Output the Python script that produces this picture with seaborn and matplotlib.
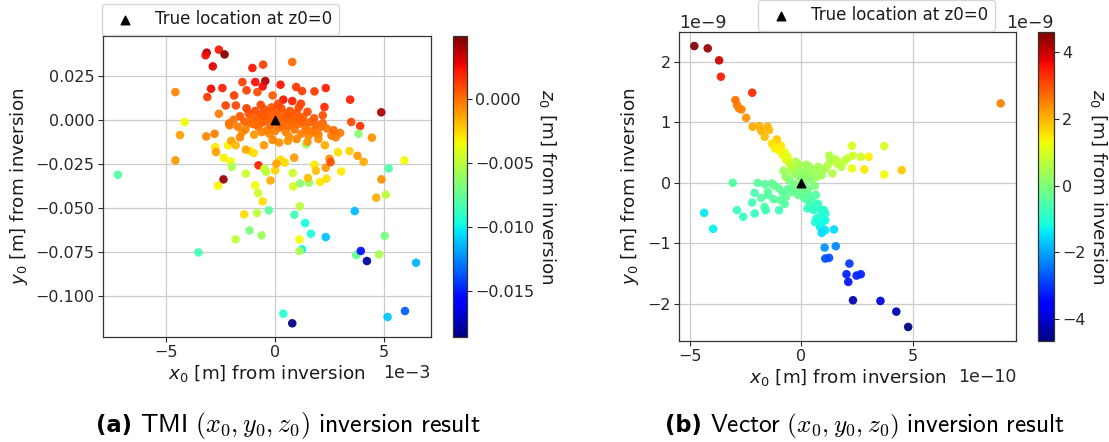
import numpy as np
import pandas as pd
import matplotlib
matplotlib.use("Agg")
import matplotlib.pyplot as plt
import seaborn as sns
from matplotlib.colors import Normalize
from matplotlib.cm import ScalarMappable
from matplotlib.ticker import MultipleLocator

# ---------------- Panel (a): TMI inversion (x in 1e-3 m, y in 1e-3 m, z in 1e-3 m)
A_OUT_X = [-3.13, -3.18, -2.57, -2.31, -2.85, -0.54, 0.80, -1.03, -1.49, -0.90,
           -0.44, -0.56, 0.26, 0.98, 1.25, 1.82, 2.34, -2.93, -2.41, -4.57,
           -3.10, -1.87, -1.30, -0.80, -0.10, 0.39, 0.80, -2.26, -1.79, 1.20,
           3.46, 2.28, 4.89, -2.57, 3.51, 3.92, -4.15, -4.36, -3.15, -2.77,
           -2.08, 4.46, 3.84, -2.74, -2.70, -2.34, -2.15, -4.57, -2.03, -1.98,
           -0.75, -1.33, -2.36, -2.61, -0.90, -0.77, -0.56, -0.48, -0.39, -0.20,
           -1.41, -0.82, -0.28, -1.16, -0.61, -1.80, -3.51, -7.21, 0.02, 0.26,
           0.46, 0.07, 0.89, 0.82, 0.84, 1.16, 1.43, 1.57, 1.52, 1.82,
           1.89, 2.08, 2.34, 2.38, 2.51, 2.56, 2.90, 3.05, 3.43, 3.80,
           4.08, 4.90, 5.10, 4.66, 5.23, 5.95, 0.90, 1.39, 1.15, 1.66,
           2.34, 3.67, 1.13, 1.25, 1.13, 3.74, 3.95, 4.23, 4.79, 5.05,
           6.49, 0.39, 0.80, 5.18, 5.98]
A_OUT_Y = [38.1, 36.6, 39.8, 37.1, 30.3, 31.3, 32.8, 29.4, 21.4, 21.4,
           22.0, 18.9, 19.9, 18.6, 16.3, 16.1, 18.0, 17.6, 18.0, 15.7,
           12.9, 13.8, 16.7, 15.7, 13.8, 11.4, 10.6, 8.1, 8.1, 9.1,
           11.4, 7.2, 4.2, 3.4, -1.3, -3.6, -1.3, -8.7, -9.5, -8.0,
           -3.2, -10.2, -8.0, -15.5, -18.4, -21.6, -14.6, -23.1, -23.7, -26.9,
           -25.9, -30.7, -33.9, -37.5, -37.3, -41.7, -46.4, -27.8, -29.7, -34.5,
           -53.8, -53.0, -51.5, -62.9, -65.7, -68.0, -75.4, -31.3, -28.8, -22.7,
           -24.4, -25.0, -21.6, -30.3, -37.9, -36.2, -14.0, -35.8, -33.1, -25.6,
           -29.0, -35.4, -27.3, -33.5, -22.2, -24.1, -18.4, -29.4, -17.8, -20.5,
           -23.9, -33.9, -42.6, -44.3, -27.7, -23.1, -54.0, -58.7, -49.2, -64.8,
           -66.7, -51.9, -68.0, -73.7, -74.6, -76.9, -74.6, -80.3, -76.5, -65.9,
           -81.3, -110.2, -115.7, -112.1, -108.7]
A_OUT_Z = [4.0, 2.5, 2.3, 4.9, 2.8, 1.2, 0.2, 2.3, 1.3, 2.5,
           3.8, 2.6, 2.3, 1.5, 1.4, 1.4, 2.0, 2.6, 2.0, -0.5,
           1.3, 1.4, 1.3, 1.0, 0.5, 2.2, 2.0, 1.2, 1.0, 1.2,
           2.0, 1.8, 4.0, -0.3, 1.0, 1.6, -3.5, -1.2, -0.6, -0.4,
           -0.3, -0.8, -6.5, -3.0, -1.2, -3.2, -3.3, -1.0, -3.5, -5.5,
           2.0, -4.5, 4.5, -3.3, -3.5, -4.5, -2.8, -4.8, -5.0, -1.5,
           -2.7, -5.0, -7.8, -6.8, -6.0, -5.0, -8.5, -8.0, -2.5, -2.6,
           -2.8, -1.3, -1.0, -4.5, -4.2, -6.3, -6.0, -6.0, -2.0, -3.0,
           -2.0, -3.0, -1.0, -2.8, -0.8, 0.8, -2.8, -3.0, -2.5, -1.0,
           -1.5, -0.8, -5.0, -1.6, -8.2, -3.5, -8.5, -9.8, -5.0, -9.5,
           -11.2, -11.3, -3.5, -10.0, -5.5, -7.5, -15.3, -18.0, -5.5, -7.0,
           -11.5, -9.3, -18.6, -11.0, -13.5]

A_CORE_X = [-1.6, -1.4, -1.2, -1.1, -1.0, -0.9, -0.8, -0.75, -0.6, -0.55,
            -0.5, -0.4, -0.35, -0.3, -0.2, -0.15, -0.1, 0.0, 0.05, 0.1,
            0.2, 0.25, 0.3, 0.35, 0.45, 0.5, 0.55, 0.6, 0.7, 0.75,
            0.85, 0.9, 1.0, 1.05, 1.15, 1.2, 1.3, 1.4, 1.5, 1.6,
            1.7, 1.8, 1.9, 2.0, -1.7, -1.5, -1.3, -0.95, -0.65, -0.25,
            0.15, 0.65, 1.1, 1.55, -1.9, -2.1, 2.2, 2.4, 2.6, 2.2,
            -0.45, 0.4, -0.7, 0.95, -0.2, 0.2, 0.6, -0.5, 0.3, -0.85,
            1.25, 0.8, -1.25, 1.45, 0.0, -0.6, 1.85, -1.35, 2.1, -1.13,
            -0.97, -1.33, -0.5, 0.2, -0.1, 0.6, 1.0, 1.5, 2.0, 2.3,
            2.8, 3.0, 2.7, -1.6, -2.0, -1.8]
A_CORE_Y = [2.0, -1.0, 3.5, 0.5, -2.5, 5.0, 1.5, -4.0, 3.0, -1.5,
            6.0, 0.8, -6.0, 4.0, -3.0, 7.0, 1.8, -1.0, 5.5, 2.5,
            -4.5, 0.5, 6.5, -2.0, 3.5, -7.0, 1.0, -3.5, 5.0, -0.5,
            2.0, -5.5, 3.8, -2.5, 0.3, -8.0, 1.5, -4.0, 4.5, -1.5,
            -6.5, 0.8, -3.0, -8.5, -4.0, -7.0, 6.5, -8.5, 8.5, -8.0,
            9.0, -9.5, 7.0, -9.0, 0.0, -2.0, -2.0, -5.0, -9.0, 2.5,
            -0.2, -0.8, -0.5, 0.8, 0.3, 1.5, 2.8, 2.2, -3.0, -2.8,
            -1.0, -2.0, -2.0, -6.0, -6.5, -7.0, -7.5, -5.5, -4.0, -17.8,
            -18.9, -17.0, -14.5, -13.0, -11.5, -12.0, -11.0, -12.5, -11.0, -14.5,
            -10.0, -7.5, -6.0, -10.0, -12.0, -14.5]
A_CORE_Z = [0.6, 0.4, 0.8, 0.3, 0.2, 0.9, 0.5, 0.0, 0.6, 0.3,
            0.8, 0.4, -0.3, 0.5, 0.2, 0.7, 0.4, 0.3, 0.6, 0.4,
            0.1, 0.3, 0.8, 0.2, 0.5, -0.4, 0.4, 0.2, 0.7, 0.3,
            0.5, -0.1, 0.6, 0.2, 0.4, -0.5, 0.5, 0.0, 0.9, 0.3,
            -0.2, 0.6, 0.4, -0.3, -0.4, -0.8, 1.2, -1.0, 1.0, -0.6,
            1.1, -0.7, 1.0, -0.5, 0.0, -0.2, 0.3, -0.2, -0.3, 0.8,
            0.3, 0.3, 0.2, 0.4, 0.3, 0.4, 0.5, 0.5, 0.1, 0.1,
            0.4, 0.2, 0.1, -0.3, -0.4, -0.5, -0.4, -0.5, 0.0, -3.0,
            -2.8, -1.5, -1.0, -0.8, -0.5, -0.9, -0.6, -0.8, -0.7, -1.5,
            -0.4, -0.2, 0.2, -0.6, -1.2, -1.8]

# ---------------- Panel (b): Vector inversion (x in 1e-10 m, y in 1e-9 m, z in 1e-9 m)
B_OUT_X = [-4.79, -4.19, -3.68, -3.60, -2.20, -2.95, -2.88, -2.79, -2.68, -2.47,
           -2.18, -1.88, -1.80, -1.51, -1.45, -1.64, -1.10, -1.32, -0.92, -1.19,
           8.92, 2.26, 3.71, 2.66, 3.01, 2.82, 3.71, 4.49, 2.26, 2.05,
           1.54, 1.31, 1.78, 1.39, 1.07, 0.75, 0.91, 0.35, -3.07, -1.96,
           -1.64, -1.32, -2.09, -1.48, -1.24, -2.20, -1.59, -1.00, -2.88, -2.60,
           -2.09, -0.92, -4.35, -3.95, -0.68, -1.00, 0.27, 0.59, 0.91, 0.27,
           0.67, 1.07, 1.07, 0.83, 1.07, 0.91, 1.46, 1.04, 1.54, 1.07,
           1.24, 2.15, 2.02, 2.10, 2.47, 2.66, 2.31, 3.54, 4.25, 4.78]
B_OUT_Y = [2.265, 2.227, 2.028, 1.757, 1.492, 1.370, 1.287, 1.232, 1.215, 1.077,
           0.928, 0.939, 0.862, 0.928, 0.873, 0.762, 0.718, 0.652, 0.619, 0.569,
           1.315, 0.613, 0.608, 0.431, 0.431, 0.221, 0.138, 0.210, 0.238, 0.403,
           0.387, 0.376, 0.265, 0.155, 0.238, 0.265, 0.127, 0.265, 0.0, 0.0,
           -0.022, -0.011, -0.166, -0.204, -0.271, -0.326, -0.453, -0.453, -0.453, -0.564,
           -0.508, -0.287, -0.497, -0.762, -0.232, -0.094, -0.287, -0.398, -0.453, -0.425,
           -0.591, -0.508, -0.619, -0.729, -0.785, -0.829, -0.773, -1.072, -1.050, -1.254,
           -1.243, -1.337, -1.514, -1.641, -1.536, -1.514, -1.945, -1.956, -2.133, -2.387]
B_OUT_Z = [4.61, 4.4, 4.0, 3.5, 3.4, 2.7, 2.6, 2.5, 2.5, 2.3,
           2.1, 2.0, 2.0, 2.0, 1.9, 1.9, 1.8, 1.6, 1.5, 1.4,
           2.5, 1.0, 1.0, 0.9, 1.4, 1.5, 1.3, 1.8, 1.2, 0.8,
           0.7, 0.5, 0.6, 0.6, 0.5, 0.5, 0.4, 0.3, -0.5, -0.4,
           -0.4, -0.3, -0.6, -0.5, -0.5, -0.7, -0.8, -0.7, -0.8, -0.8,
           -0.8, -0.4, -1.4, -1.3, -0.3, -0.3, -0.6, -0.8, -0.9, -0.8,
           -1.0, -1.1, -1.2, -1.3, -1.4, -1.5, -1.5, -2.2, -2.3, -2.8,
           -2.8, -3.0, -3.2, -3.3, -3.2, -3.2, -4.3, -3.9, -4.2, -4.67]

B_CORE_X = [-0.76, -0.61, -0.49, -0.29, -0.68, -0.84, -1.00,
            -0.45, -0.30, -0.20, -0.10, 0.05, 0.15, 0.25, 0.40, 0.55, 0.45,
            -0.55, -0.35, -0.20, -0.05, 0.10, 0.30, 0.20, 0.05, -0.15, -0.40,
            -0.60, -0.70, 0.60, 0.70, 0.35, 0.50, 0.12, -0.25, -0.10, 0.00,
            0.22, -0.50, -0.80, -0.85, 0.85, 0.65, 0.40, 0.75, 0.55, 0.85,
            1.00, 0.62, 0.95, -0.75, -1.20, -1.50, -1.80, -1.65, 1.20, 1.60,
            1.90, 2.30, 1.25]
B_CORE_Y = [0.514, 0.431, 0.32, 0.238, 0.376, 0.459, 0.54,
            0.20, 0.15, 0.25, 0.10, 0.18, 0.08, 0.15, 0.12, 0.20, 0.05,
            0.05, -0.02, -0.08, -0.05, -0.03, -0.10, -0.18, -0.15, -0.20, -0.15,
            -0.10, 0.10, -0.05, 0.10, -0.22, -0.30, -0.25, 0.35, 0.30, 0.05,
            0.30, 0.30, 0.20, -0.15, 0.22, -0.20, -0.38, -0.35, -0.45, -0.55,
            -0.45, -0.65, -0.65, -0.35, -0.05, -0.15, -0.25, -0.40, 0.30, 0.32,
            0.35, 0.45, 0.45]
B_CORE_Z = [1.3, 1.1, 0.9, 0.7, 1.1, 1.2, 1.4,
            0.5, 0.3, 0.4, 0.2, 0.2, 0.1, 0.2, 0.3, 0.4, 0.1,
            0.0, -0.1, -0.1, 0.0, 0.0, -0.2, -0.3, -0.2, -0.3, -0.3,
            -0.3, 0.2, 0.0, 0.3, -0.4, -0.6, -0.4, 0.6, 0.5, 0.1,
            0.4, 0.8, 0.3, -0.4, 0.4, -0.5, -0.7, -0.8, -0.9, -1.0,
            -1.0, -1.1, -1.2, -0.5, -0.3, -0.4, -0.5, -0.6, 0.6, 0.7,
            0.7, 0.9, 0.6]

LEGEND_LABEL = "True location at z0=0"
XLABEL = "$x_0$ [m] from inversion"
YLABEL = "$y_0$ [m] from inversion"
CLABEL = "$z_0$ [m] from inversion"
CAPTION_A = ("(a)", r"$\mathsf{TMI}\ (x_0, y_0, z_0)\ \mathsf{inversion\ result}$")
CAPTION_B = ("(b)", r"$\mathsf{Vector}\ (x_0, y_0, z_0)\ \mathsf{inversion\ result}$")

# ---------------- style
sns.set_theme(style="whitegrid", rc={
    "axes.edgecolor": "0.2",
    "axes.linewidth": 0.9,
    "grid.color": "0.8",
    "grid.linewidth": 0.9,
    "xtick.bottom": True,
    "ytick.left": True,
    "xtick.color": "0.15",
    "ytick.color": "0.15",
    "xtick.major.size": 3.5,
    "ytick.major.size": 3.5,
    "xtick.major.width": 0.8,
    "ytick.major.width": 0.8,
    "text.color": "0.1",
    "axes.labelcolor": "0.1",
})
plt.rcParams["font.family"] = ["DejaVu Sans"]

JET = matplotlib.colormaps["jet"]

W, H = 1109, 442
fig = plt.figure(figsize=(W / 100, H / 100), dpi=100)


def box(x0, y0, x1, y1):
    return [x0 / W, 1 - y1 / H, (x1 - x0) / W, (y1 - y0) / H]


ax_a = fig.add_axes(box(103, 36, 431, 337))
cax_a = fig.add_axes(box(453, 36, 467, 337))
ax_b = fig.add_axes(box(679, 32, 1016, 341))
cax_b = fig.add_axes(box(1038, 32, 1053.5, 341))

df_a = pd.DataFrame({
    "x": np.array(A_OUT_X + A_CORE_X) * 1e-3,
    "y": np.array(A_OUT_Y + A_CORE_Y) * 1e-3,
    "z": np.array(A_OUT_Z + A_CORE_Z) * 1e-3,
})
df_b = pd.DataFrame({
    "x": np.array(B_OUT_X + B_CORE_X) * 1e-10,
    "y": np.array(B_OUT_Y + B_CORE_Y) * 1e-9,
    "z": np.array(B_OUT_Z + B_CORE_Z) * 1e-9,
})


def panel(ax, cax, df, legend_anchor, xstep, ystep, cstep):
    norm = Normalize(df["z"].min(), df["z"].max())
    sns.scatterplot(data=df, x="x", y="y", hue="z", palette=JET, hue_norm=norm,
                    legend=False, s=38, linewidth=0, alpha=0.93, ax=ax, zorder=3)
    ax.scatter([0], [0], marker="^", color="black", s=38, zorder=5, label=LEGEND_LABEL)
    ax.xaxis.set_major_locator(MultipleLocator(xstep))
    ax.yaxis.set_major_locator(MultipleLocator(ystep))
    ax.set_xlabel(XLABEL, fontsize=13.2, labelpad=2)
    ax.set_ylabel(YLABEL, fontsize=13.2, labelpad=4)
    ax.tick_params(labelsize=11.5, pad=2.5)
    ax.grid(True, zorder=0)
    ax.set_axisbelow(True)
    ax.xaxis.get_offset_text().set_fontsize(12.5)
    ax.yaxis.get_offset_text().set_fontsize(12.5)
    sm = ScalarMappable(norm=norm, cmap=JET)
    cb = fig.colorbar(sm, cax=cax)
    cb.ax.yaxis.set_major_locator(MultipleLocator(cstep))
    cb.outline.set_edgecolor("0.2")
    cb.outline.set_linewidth(0.9)
    cax.tick_params(labelsize=11.5, length=3.5, pad=2.5)
    cax.yaxis.get_offset_text().set_fontsize(12.5)
    cb.set_label(CLABEL, fontsize=13.2, rotation=270, labelpad=17)
    ax.legend(loc="lower left", bbox_to_anchor=legend_anchor, bbox_transform=fig.transFigure,
              fontsize=12, frameon=True, borderaxespad=0)


panel(ax_a, cax_a, df_a, (102 / W, 1 - 35 / H), 0.005, 0.025, 0.005)
ax_a.ticklabel_format(axis="x", style="sci", scilimits=(0, 0))
ax_a.xaxis.get_offset_text().set_fontsize(12.5)
panel(ax_b, cax_b, df_b, (758 / W, 1 - 31 / H), 5e-10, 1e-9, 2e-9)


def caption(x_px, base_px, parts, size):
    tag, rest = parts
    t1 = fig.text(x_px / W, 1 - base_px / H, tag, fontsize=16.3, fontweight="bold",
                  ha="left", va="baseline", color="black")
    fig.canvas.draw()
    ext = t1.get_window_extent()
    fig.text((ext.x1 + 8) / W, 1 - base_px / H, rest, fontsize=size, ha="left",
             va="baseline", color="black", math_fontfamily="cm")


caption(96, 432, CAPTION_A, 18.7)
caption(665, 432, CAPTION_B, 18.2)

fig.savefig("out.png", dpi=100)
